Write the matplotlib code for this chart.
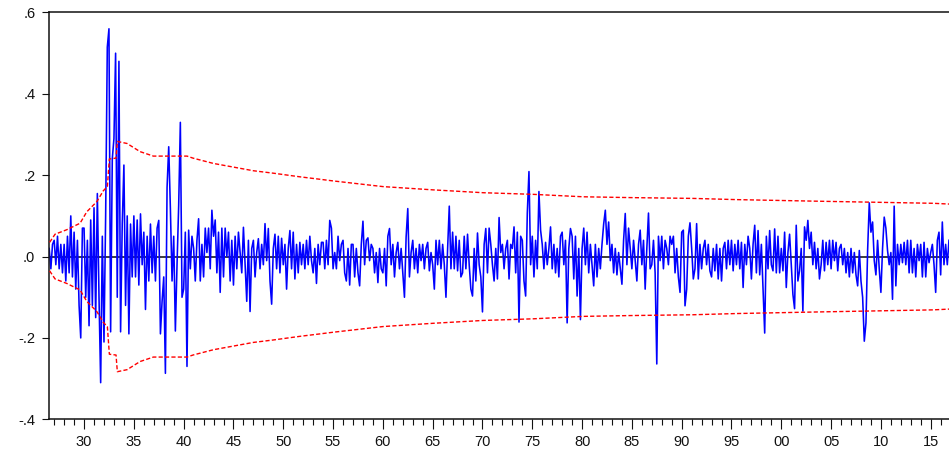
import numpy as np
import matplotlib
matplotlib.use("Agg")
import matplotlib.pyplot as plt
from matplotlib.ticker import FixedLocator, MultipleLocator

plt.rcParams['font.family'] = ['Liberation Sans', 'DejaVu Sans']

# Recursive residuals, 6 observations per year, starting mid-1926
start_year = 1926.5
obs_per_year = 6
resid = [
    0.02, -0.03, 0.03,                                   # 1926 H2
    0.04, -0.02, 0.05, -0.03, 0.03, -0.04,               # 1927
    0.03, -0.06, 0.05, -0.04, 0.10, -0.05,               # 1928
    0.06, -0.08, 0.04, -0.12, -0.20, 0.07,               # 1929
    0.07, -0.10, 0.04, -0.17, 0.09, -0.12,               # 1930
    0.12, -0.15, 0.155, -0.10, -0.31, 0.05,              # 1931
    -0.21, 0.10, 0.515, 0.56, -0.185, 0.24,              # 1932
    0.29, 0.50, -0.10, 0.48, -0.185, 0.08,               # 1933
    0.225, -0.12, 0.10, -0.19, 0.08, -0.05,              # 1934
    0.10, -0.05, 0.09, -0.07, 0.105, -0.02,              # 1935
    0.06, -0.13, 0.05, -0.06, 0.08, -0.04,               # 1936
    0.05, -0.06, 0.07, 0.089, -0.19, -0.11,              # 1937
    -0.05, -0.287, 0.17, 0.27, 0.118, -0.06,             # 1938
    0.05, -0.183, -0.02, 0.126, 0.33, -0.10,             # 1939
    -0.08, 0.06, -0.27, 0.065, -0.03, 0.05,              # 1940
    0.02, -0.06, 0.04, 0.093, -0.06, 0.03,               # 1941
    -0.05, 0.07, 0.01, 0.07, -0.03, 0.114,               # 1942
    0.05, 0.09, -0.04, 0.06, -0.088, 0.07,               # 1943
    -0.05, 0.07, 0.00, 0.06, -0.06, 0.04,                # 1944
    -0.07, 0.05, -0.03, 0.06, 0.01, -0.04,               # 1945
    0.072, -0.02, -0.11, 0.04, -0.135, 0.02,             # 1946
    0.04, -0.05, 0.01, 0.044, -0.03, 0.03,               # 1947
    -0.02, 0.081, -0.01, 0.069, -0.06, -0.117,           # 1948
    0.02, 0.055, -0.03, 0.05, -0.04, 0.045,              # 1949
    -0.02, 0.03, -0.08, 0.02, 0.064, -0.03,              # 1950
    0.06, -0.055, 0.03, -0.04, 0.035, -0.02,             # 1951
    0.03, -0.03, 0.04, -0.02, 0.05, -0.01,               # 1952
    -0.04, 0.02, -0.066, 0.03, -0.02, 0.035,             # 1953
    0.035, -0.03, 0.04, -0.02, 0.089, 0.07,              # 1954
    -0.03, 0.01, -0.03, 0.05, -0.01, 0.03,               # 1955
    0.04, -0.04, -0.06, 0.02, -0.07, 0.03,               # 1956
    0.03, -0.05, 0.02, -0.04, -0.072, 0.03,              # 1957
    0.087, -0.02, 0.04, 0.046, -0.01, 0.03,              # 1958
    0.02, -0.04, 0.01, -0.064, 0.02, -0.03,              # 1959
    -0.04, 0.02, -0.072, 0.05, 0.069, -0.02,             # 1960
    0.03, -0.05, 0.01, 0.035, -0.03, 0.02,               # 1961
    -0.04, -0.10, 0.048, 0.118, -0.05, 0.01,             # 1962
    0.04, -0.03, 0.02, -0.04, 0.03, -0.01,               # 1963
    0.03, -0.03, 0.02, 0.035, -0.035, 0.01,              # 1964
    -0.02, -0.08, 0.04, -0.02, 0.04, -0.03,              # 1965
    0.03, -0.02, -0.10, 0.02, 0.124, -0.03,              # 1966
    0.06, -0.03, 0.05, -0.035, 0.04, -0.05,              # 1967
    -0.04, 0.05, -0.03, 0.055, -0.02, -0.08,             # 1968
    -0.097, 0.02, -0.06, 0.058, -0.02, -0.05,            # 1969
    -0.136, 0.03, 0.069, -0.04, 0.07, 0.03,              # 1970
    -0.02, -0.06, 0.02, -0.055, 0.096, 0.01,             # 1971
    0.03, -0.03, 0.02, 0.04, -0.055, 0.03,               # 1972
    0.02, 0.073, -0.04, 0.06, -0.161, 0.05,              # 1973
    0.04, -0.06, -0.097, 0.107, 0.209, -0.02,            # 1974
    0.05, -0.05, 0.04, -0.03, 0.16, 0.065,               # 1975
    0.03, -0.03, 0.035, -0.02, 0.02, 0.073,              # 1976
    -0.03, 0.03, -0.04, 0.02, -0.05, 0.05,               # 1977
    0.06, -0.02, 0.04, -0.163, 0.02, 0.069,              # 1978
    0.05, -0.055, 0.05, -0.097, 0.02, -0.155,            # 1979
    0.02, 0.07, -0.02, 0.06, -0.04, 0.03,                # 1980
    -0.02, -0.072, 0.03, -0.05, 0.02, -0.03,             # 1981
    0.03, 0.08, 0.114, 0.03, 0.085, -0.01,               # 1982
    0.03, -0.04, 0.02, -0.045, 0.01, -0.03,              # 1983
    -0.068, 0.04, 0.106, -0.02, 0.07, 0.02,              # 1984
    -0.03, 0.04, -0.01, -0.06, 0.03, 0.065,              # 1985
    -0.02, 0.04, -0.08, 0.02, 0.107, -0.03,              # 1986
    -0.02, 0.04, -0.04, -0.264, 0.05, -0.01,             # 1987
    0.05, -0.03, 0.04, 0.02, -0.02, 0.05,                # 1988
    0.03, 0.05, -0.04, 0.02, -0.05, -0.088,              # 1989
    0.06, 0.065, -0.121, -0.08, 0.05, 0.083,             # 1990
    0.02, -0.055, -0.03, 0.081, -0.055, 0.03,            # 1991
    -0.03, 0.02, 0.04, -0.02, 0.03, -0.035,              # 1992
    -0.05, 0.02, -0.035, 0.03, -0.055, 0.02,             # 1993
    -0.06, 0.02, 0.035, -0.03, 0.04, -0.02,              # 1994
    0.04, -0.035, 0.03, -0.02, 0.04, -0.03,              # 1995
    0.035, -0.076, 0.03, -0.02, 0.05, 0.02,              # 1996
    -0.055, 0.03, 0.077, -0.04, 0.064, -0.045,           # 1997
    0.03, -0.08, -0.188, 0.05, -0.03, 0.064,             # 1998
    -0.02, -0.035, 0.068, -0.04, 0.05, -0.04,            # 1999
    0.02, -0.035, 0.06, -0.076, 0.01, 0.055,             # 2000
    -0.02, -0.093, -0.128, 0.077, -0.06, -0.035,         # 2001
    0.02, -0.134, 0.073, 0.04, 0.089, 0.02,              # 2002
    0.06, -0.02, 0.035, -0.03, 0.02, -0.055,             # 2003
    -0.02, 0.04, -0.035, 0.035, -0.02, 0.04,             # 2004
    -0.03, 0.04, -0.01, 0.035, -0.035, 0.02,             # 2005
    0.03, -0.02, 0.02, -0.04, 0.01, -0.05,               # 2006
    0.02, -0.04, 0.01, -0.045, -0.072, 0.015,            # 2007
    -0.06, -0.10, -0.208, -0.163, 0.015, 0.132,          # 2008
    0.06, 0.085, -0.01, -0.045, 0.04, -0.03,             # 2009
    -0.088, 0.02, 0.097, 0.07, 0.015, -0.02,             # 2010
    0.01, -0.105, 0.124, -0.072, 0.03, -0.02,            # 2011
    0.03, -0.015, 0.035, -0.02, 0.04, -0.04,             # 2012
    0.04, -0.04, 0.02, -0.05, 0.03, -0.01,               # 2013
    0.03, -0.05, 0.035, -0.05, 0.02, -0.015,             # 2014
    0.01, 0.03, -0.02, -0.088, 0.04, 0.06,               # 2015
    -0.045, 0.085, -0.02, 0.03, -0.02, 0.04,             # 2016
]

# +/- 2 S.E. band
band_years = [1926.54, 1927.09, 1928.26, 1929.6, 1930.27, 1931.28, 1931.94, 1932.34,
              1932.54, 1933.21, 1933.34, 1934.32, 1935.62, 1936.96, 1940.34, 1940.94,
              1942.98, 1944.99, 1947.0, 1949.0, 1951.69, 1953.7, 1955.0, 1960.02,
              1965.04, 1970.06, 1975.08, 1980.1, 1984.82, 1991.14, 1995.56, 2003.9,
              2015.24, 2016.95]
band_upper = [0.035, 0.055, 0.066, 0.082, 0.11, 0.135, 0.162, 0.172,
              0.24, 0.242, 0.283, 0.278, 0.258, 0.247, 0.247, 0.242,
              0.229, 0.22, 0.211, 0.205, 0.196, 0.19, 0.186, 0.172,
              0.164, 0.157, 0.153, 0.147, 0.145, 0.143, 0.14, 0.136,
              0.131, 0.129]

ytick_vals = [-0.4, -0.2, 0.0, 0.2, 0.4, 0.6]
ytick_labels = ['-.4', '-.2', '.0', '.2', '.4', '.6']
xtick_years = list(range(1930, 2016, 5))
xtick_labels = ['30', '35', '40', '45', '50', '55', '60', '65', '70', '75',
                '80', '85', '90', '95', '00', '05', '10', '15']

W, H = 949, 454
fig = plt.figure(figsize=(W / 100, H / 100), dpi=100)
ax = fig.add_axes([49.2 / W, 34.7 / H, 906.4 / W, 406.8 / H])

x = start_year + np.arange(len(resid)) / obs_per_year
ax.axhline(0, color='#1a1a1a', lw=1.2, zorder=1)
ax.plot(x, resid, color='#0000FF', lw=1.15, zorder=2)
bu = np.array(band_upper)
ax.plot(band_years, bu, color='#FF0000', lw=1.0, ls=(0, (3, 1.6)), zorder=3)
ax.plot(band_years, -bu, color='#FF0000', lw=1.0, ls=(0, (3, 1.6)), zorder=3)

ax.set_xlim(1926.5, 2017.5)
ax.set_ylim(-0.4, 0.6)
ax.yaxis.set_major_locator(FixedLocator(ytick_vals))
ax.set_yticklabels(ytick_labels)
ax.xaxis.set_major_locator(FixedLocator(xtick_years))
ax.set_xticklabels(xtick_labels)
ax.xaxis.set_minor_locator(MultipleLocator(1))

for s in ['left', 'bottom', 'top']:
    ax.spines[s].set_linewidth(1.1)
    ax.spines[s].set_color('#111111')
ax.spines['right'].set_visible(False)

ax.tick_params(axis='y', which='major', direction='out', length=5, width=0.8,
               pad=5, labelsize=10.5, colors='#111111')
ax.tick_params(axis='x', which='major', direction='out', length=7, width=0.8,
               pad=4, labelsize=10.5, colors='#111111')
ax.tick_params(axis='x', which='minor', direction='out', length=4.5, width=0.8,
               colors='#111111')

fig.savefig('out.png', dpi=100)
